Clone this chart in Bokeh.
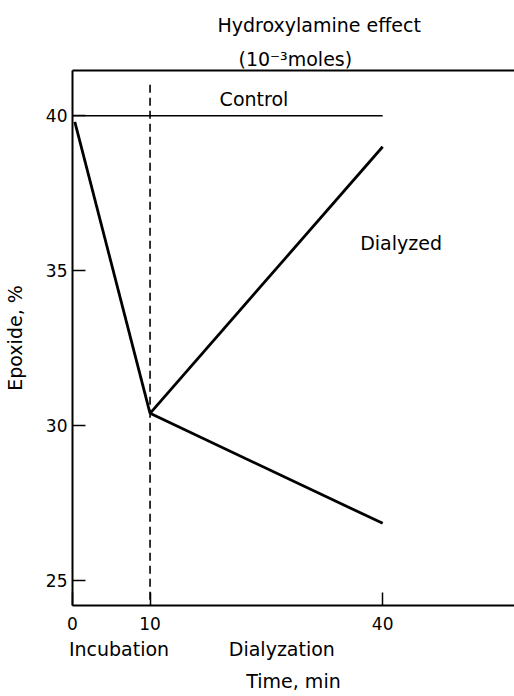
from bokeh.plotting import figure
from bokeh.models import Range1d, LinearAxis, FixedTicker, Label, Title
from bokeh.embed import file_html
from bokeh.resources import INLINE

# ---- data ----
x_ticks = [0, 10, 40]
y_ticks = [25, 30, 35, 40]

phase_ticks = [6, 27]
phase_labels = ["Incubation", "Dialyzation"]

control_x = [0, 40]
control_y = [40.0, 40.0]

incubation_x = [0.3, 10]
incubation_y = [39.8, 30.4]

dialyzed_x = [10, 40]
dialyzed_y = [30.4, 39.0]

undialyzed_x = [10, 40]
undialyzed_y = [30.4, 26.85]

incubation_end = 10
dash_top = 41.0

FONT = "DejaVu Sans"

p = figure(width=514, height=696,
           x_range=Range1d(0, 57), y_range=Range1d(24.2, 41.46),
           output_backend="svg", toolbar_location=None,
           min_border_left=72, min_border_right=0,
           min_border_top=70, min_border_bottom=91)
p.grid.visible = False
p.outline_line_color = None
p.background_fill_color = "white"
p.border_fill_color = "white"

for ax, ticks in ((p.xaxis[0], x_ticks), (p.yaxis[0], y_ticks)):
    ax.ticker = FixedTicker(ticks=ticks)
    ax.major_tick_in = 13
    ax.major_tick_out = 0
    ax.minor_tick_line_color = None
    ax.axis_line_width = 2
    ax.axis_line_color = "black"
    ax.major_tick_line_width = 1.5
    ax.major_label_text_font = FONT
    ax.major_label_text_font_size = "17px"
    ax.major_label_text_color = "black"
p.xaxis[0].major_label_standoff = 11
p.yaxis[0].major_label_standoff = 5

ya = p.yaxis[0]
ya.axis_label = "Epoxide, %"
ya.axis_label_text_font = FONT
ya.axis_label_text_font_size = "19px"
ya.axis_label_text_font_style = "normal"
ya.axis_label_text_color = "black"
ya.axis_label_standoff = 17

# top frame line
top = LinearAxis(ticker=FixedTicker(ticks=[]), major_label_text_font_size="0px",
                 major_label_standoff=0,
                 major_tick_in=0, major_tick_out=0, minor_tick_line_color=None,
                 axis_line_width=2, axis_line_color="black")
p.add_layout(top, "above")

t2 = Title(text="(10\u207b\u00b3moles)", align="left", offset=166,
           text_font=FONT, text_font_size="19px", text_font_style="normal",
           text_color="black", standoff=1)
p.add_layout(t2, "above")
t1 = Title(text="Hydroxylamine effect", align="left", offset=145,
           text_font=FONT, text_font_size="19px", text_font_style="normal",
           text_color="black", standoff=19)
p.add_layout(t1, "above")

# phase names + axis title under the time axis
phase = LinearAxis(ticker=FixedTicker(ticks=phase_ticks),
                   major_label_overrides={t: s for t, s in zip(phase_ticks, phase_labels)},
                   major_label_standoff=5,
                   major_tick_in=0, major_tick_out=0, minor_tick_line_color=None,
                   axis_line_color=None,
                   major_label_text_font=FONT, major_label_text_font_size="19px",
                   major_label_text_color="black",
                   axis_label="Time, min", axis_label_standoff=7,
                   axis_label_text_font=FONT, axis_label_text_font_size="19px",
                   axis_label_text_font_style="normal",
                   axis_label_text_color="black")
p.add_layout(phase, "below")

# curves
p.line(control_x, control_y, line_width=1.6, color="black")
p.line(incubation_x, incubation_y, line_width=2.8, color="black")
p.line(dialyzed_x, dialyzed_y, line_width=2.8, color="black")
p.line(undialyzed_x, undialyzed_y, line_width=2.8, color="black")
p.segment(x0=[incubation_end], y0=[dash_top], x1=[incubation_end], y1=[24.2],
          line_width=1.6, line_dash="8 5", color="black")

def lab(text, x, y, align="center"):
    p.add_layout(Label(text=text, x=x, y=y,
                       text_align=align, text_baseline="middle",
                       text_font=FONT, text_font_size="19px", text_color="black"))

lab("Control", 23.4, 40.55)
lab("Dialyzed", 37.1, 35.9, align="left")

open("out.html", "w").write(file_html(p, INLINE))
